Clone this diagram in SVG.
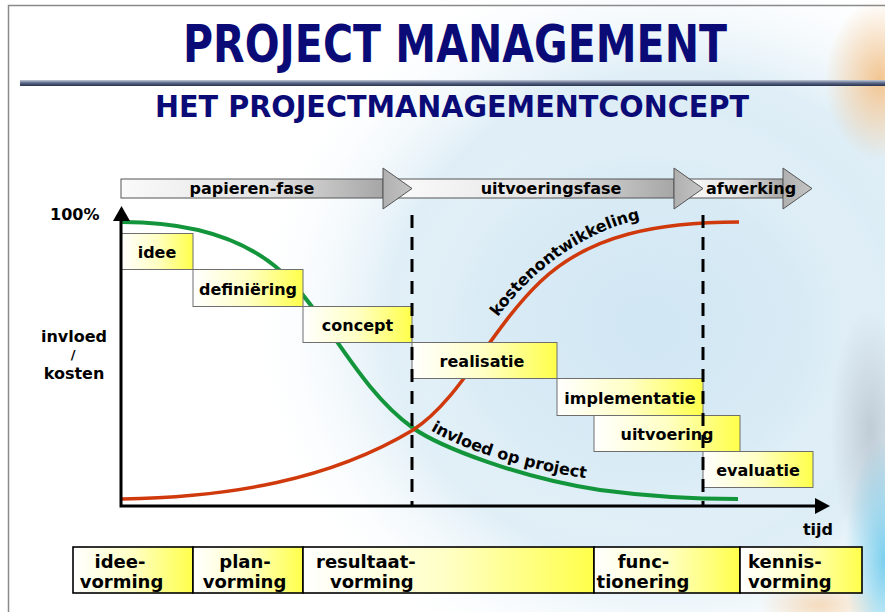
<svg xmlns="http://www.w3.org/2000/svg" width="885" height="612" viewBox="0 0 885 612">
<defs>
  <radialGradient id="bgBlue" cx="0.5" cy="0.5" r="0.5">
    <stop offset="0" stop-color="#cfe6f3" stop-opacity="0.95"/>
    <stop offset="0.65" stop-color="#d9ebf5" stop-opacity="0.85"/>
    <stop offset="1" stop-color="#ffffff" stop-opacity="0"/>
  </radialGradient>
  <radialGradient id="bgPeach" cx="0.5" cy="0.5" r="0.5">
    <stop offset="0" stop-color="#f2b46e" stop-opacity="0.75"/>
    <stop offset="1" stop-color="#f2b46e" stop-opacity="0"/>
  </radialGradient>
  <radialGradient id="bgCyan" cx="0.5" cy="0.5" r="0.5">
    <stop offset="0" stop-color="#5cc4ea" stop-opacity="0.8"/>
    <stop offset="1" stop-color="#5cc4ea" stop-opacity="0"/>
  </radialGradient>
  <radialGradient id="bgGrey" cx="0.5" cy="0.5" r="0.5">
    <stop offset="0" stop-color="#a9b2bb" stop-opacity="0.55"/>
    <stop offset="1" stop-color="#a9b2bb" stop-opacity="0"/>
  </radialGradient>
  <linearGradient id="rule" x1="0" y1="0" x2="0" y2="1">
    <stop offset="0" stop-color="#c4ccd9"/>
    <stop offset="0.5" stop-color="#5a6786"/>
    <stop offset="1" stop-color="#26314d"/>
  </linearGradient>
  <linearGradient id="arrowBody" x1="0" y1="0" x2="1" y2="0">
    <stop offset="0" stop-color="#fafafa"/>
    <stop offset="0.55" stop-color="#e4e4e4"/>
    <stop offset="1" stop-color="#a6a6a6"/>
  </linearGradient>
  <linearGradient id="arrowHead" x1="0" y1="0" x2="1" y2="0">
    <stop offset="0" stop-color="#b0b0b0"/>
    <stop offset="1" stop-color="#c4c4c4"/>
  </linearGradient>
  <linearGradient id="yellow" x1="0" y1="0" x2="1" y2="0">
    <stop offset="0" stop-color="#ffffff"/>
    <stop offset="0.5" stop-color="#ffffc4"/>
    <stop offset="1" stop-color="#ffff4a"/>
  </linearGradient>
  <path id="kostenPath" d="M 488 331 C 530 268, 590 225, 662 215"/>
  <path id="invloedPath" d="M 418 422 C 450 446, 520 470, 605 481"/>
</defs>
<style>
  .ttl { font-family: "DejaVu Sans", "Liberation Sans", sans-serif; font-weight: bold; fill: #0b0b78; }
  .lbl { font-family: "DejaVu Sans", "Liberation Sans", sans-serif; font-weight: bold; font-size: 16px; fill: #000; }
  .blbl { font-family: "DejaVu Sans", "Liberation Sans", sans-serif; font-weight: bold; font-size: 18px; fill: #000; }
  .mid { text-anchor: middle; }
  .step { fill: url(#yellow); stroke: #6e6e6e; stroke-width: 1; }
  .bottom { fill: url(#yellow); stroke: #000; stroke-width: 1.6; }
  .body { fill: url(#arrowBody); stroke: #555; stroke-width: 1; }
  .head { fill: url(#arrowHead); stroke: #555; stroke-width: 1; }
  .dash { stroke: #000; stroke-width: 3; stroke-dasharray: 13 9; fill: none; }
  .axis { stroke: #000; stroke-width: 3; fill: none; }
</style>

<!-- background -->
<rect x="0" y="0" width="885" height="612" fill="#ffffff"/>
<ellipse cx="670" cy="320" rx="430" ry="380" fill="url(#bgBlue)"/>
<ellipse cx="640" cy="330" rx="260" ry="230" fill="url(#bgBlue)" opacity="0.6"/>
<ellipse cx="880" cy="80" rx="55" ry="80" fill="url(#bgPeach)"/>
<ellipse cx="870" cy="430" rx="40" ry="120" fill="url(#bgGrey)"/>
<ellipse cx="885" cy="560" rx="40" ry="120" fill="url(#bgCyan)"/>
<ellipse cx="820" cy="605" rx="60" ry="25" fill="url(#bgPeach)" opacity="0.6"/>

<!-- frame -->
<path d="M 8.5 612 L 8.5 5.5 L 885 5.5" fill="none" stroke="#8a8a8a" stroke-width="1.5"/>

<!-- titles -->
<g id="title">
  <text class="ttl" x="183" y="62" font-size="52" textLength="544" lengthAdjust="spacingAndGlyphs">PROJECT MANAGEMENT</text>
</g>
<rect x="20" y="80" width="865" height="6" fill="url(#rule)"/>
<g id="subtitle">
  <text class="ttl" x="155" y="117" font-size="30" textLength="594" lengthAdjust="spacingAndGlyphs">HET PROJECTMANAGEMENTCONCEPT</text>
</g>

<!-- phase arrows -->
<g id="phase-afwerking">
  <rect class="body" x="687" y="179" width="96" height="19"/>
  <polygon class="head" points="783,179 783,168 812,188.5 783,209 783,198"/>
  <text class="lbl mid" x="751" y="194">afwerking</text>
</g>
<g id="phase-uitvoeringsfase">
  <rect class="body" x="398" y="179" width="276" height="19"/>
  <polygon class="head" points="674,179 674,168 703,188.5 674,209 674,198"/>
  <text class="lbl mid" x="551" y="194">uitvoeringsfase</text>
</g>
<g id="phase-papieren-fase">
  <rect class="body" x="121" y="179" width="262" height="19"/>
  <polygon class="head" points="383,179 383,168 412,188.5 383,209 383,198"/>
  <text class="lbl mid" x="252" y="194">papieren-fase</text>
</g>

<!-- curves -->
<g id="connectors">
  <path id="curve-invloed" d="M 122 222 C 190 222, 250 238, 290 280 C 330 322, 360 390, 413 428 C 440 447, 520 478, 600 490 C 660 498, 700 499, 738 499" fill="none" stroke="#13963b" stroke-width="4"/>
  <path id="curve-kosten" d="M 122 499 C 230 497, 330 480, 413 430 C 460 400, 490 330, 540 282 C 590 234, 660 222, 739 222" fill="none" stroke="#d0390b" stroke-width="3.5"/>
  <text class="lbl"><textPath href="#kostenPath" startOffset="17">kostenontwikkeling</textPath></text>
  <text class="lbl"><textPath href="#invloedPath" startOffset="15">invloed op project</textPath></text>
</g>

<!-- step boxes -->
<g id="step-idee"><rect class="step" x="121" y="233.5" width="72" height="36"/><text class="lbl mid" x="157" y="258">idee</text></g>
<g id="step-definiering"><rect class="step" x="193" y="269.5" width="110" height="37"/><text class="lbl mid" x="248" y="295">definiëring</text></g>
<g id="step-concept"><rect class="step" x="303" y="306.5" width="109" height="36"/><text class="lbl mid" x="357.5" y="331">concept</text></g>
<g id="step-realisatie"><rect class="step" x="412" y="342.5" width="145" height="36"/><text class="lbl mid" x="482" y="367">realisatie</text></g>
<g id="step-implementatie"><rect class="step" x="557" y="378.5" width="146" height="37"/><text class="lbl mid" x="630" y="404">implementatie</text></g>
<g id="step-uitvoering"><rect class="step" x="594" y="415.5" width="146" height="36"/><text class="lbl mid" x="667" y="440">uitvoering</text></g>
<g id="step-evaluatie"><rect class="step" x="703" y="451.5" width="110" height="36"/><text class="lbl mid" x="758" y="476">evaluatie</text></g>

<!-- dashed phase separators -->
<g id="separators">
  <line class="dash" x1="412" y1="215" x2="412" y2="506"/>
  <line class="dash" x1="703" y1="215" x2="703" y2="506"/>
</g>

<!-- axes -->
<g id="axes">
  <path class="axis" d="M 121 221 L 121 506 L 816 506"/>
  <polygon points="113,221 121.5,206 130,221" fill="#000"/>
  <polygon points="815,498 830,506 815,514" fill="#000"/>
  <text class="lbl" x="50" y="220" font-size="17">100%</text>
  <text class="lbl mid"><tspan x="74" y="342">invloed</tspan><tspan x="73" y="359" font-size="13">/</tspan><tspan x="74" y="379">kosten</tspan></text>
  <text class="lbl mid" x="818" y="535">tijd</text>
</g>

<!-- bottom boxes -->
<g id="b-ideevorming"><rect class="bottom" x="73" y="547" width="120" height="46"/>
  <text class="blbl mid" x="120" y="568">idee-</text><text class="blbl mid" x="121.5" y="588">vorming</text></g>
<g id="b-planvorming"><rect class="bottom" x="193" y="547" width="110" height="46"/>
  <text class="blbl mid" x="245" y="568">plan-</text><text class="blbl mid" x="244.5" y="588">vorming</text></g>
<g id="b-resultaatvorming"><rect class="bottom" x="303" y="547" width="291" height="46"/>
  <text class="blbl" x="316" y="568">resultaat-</text><text class="blbl" x="330" y="588">vorming</text></g>
<g id="b-functionering"><rect class="bottom" x="594" y="547" width="146" height="46"/>
  <text class="blbl mid" x="643.5" y="568">func-</text><text class="blbl mid" x="643" y="588">tionering</text></g>
<g id="b-kennisvorming"><rect class="bottom" x="740" y="547" width="122" height="46"/>
  <text class="blbl" x="748" y="568">kennis-</text><text class="blbl" x="748" y="588">vorming</text></g>
</svg>
